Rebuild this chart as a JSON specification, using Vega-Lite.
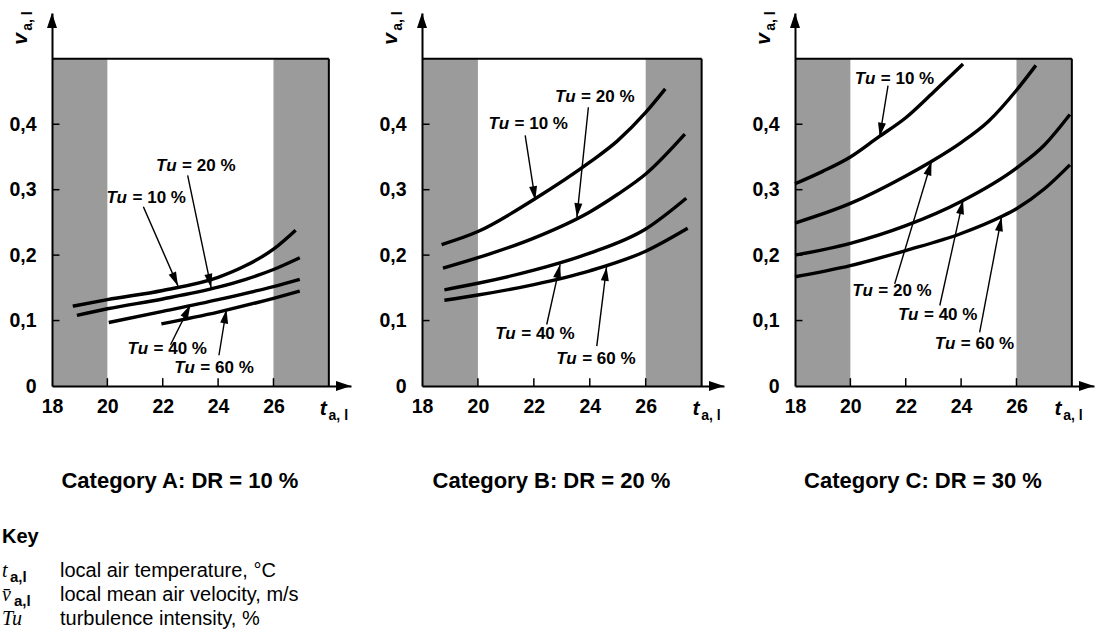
{
  "$schema": "https://vega.github.io/schema/vega-lite/v6.json",
  "background": "white",
  "padding": {"left": 2, "top": 11, "right": 2, "bottom": 2},
  "datasets": {
    "zones": [
      {"x": 18, "x2": 20, "y": 0, "y2": 0.5},
      {"x": 26, "x2": 28, "y": 0, "y2": 0.5}
    ],
    "frame": [
      {"x": 18, "y": 0.5, "x2": 28, "y2": 0.5},
      {"x": 28, "y": 0, "x2": 28, "y2": 0.5}
    ],
    "ticks": [
      {"x": 20, "y": 0, "x2": 20, "y2": 0.012},
      {"x": 22, "y": 0, "x2": 22, "y2": 0.012},
      {"x": 24, "y": 0, "x2": 24, "y2": 0.012},
      {"x": 26, "y": 0, "x2": 26, "y2": 0.012},
      {"x": 18, "y": 0.1, "x2": 18.27, "y2": 0.1},
      {"x": 18, "y": 0.2, "x2": 18.27, "y2": 0.2},
      {"x": 18, "y": 0.3, "x2": 18.27, "y2": 0.3},
      {"x": 18, "y": 0.4, "x2": 18.27, "y2": 0.4}
    ],
    "axend": [
      {"dir": "up", "x": 18, "y": 0.57},
      {"dir": "right", "x": 28.8, "y": 0}
    ],
    "axlab": [
      {"p": "A", "sym": "v", "x": 18, "y": 0.57},
      {"p": "A", "sym": "t", "x": 27.8, "y": 0},
      {"p": "B", "sym": "v", "x": 18, "y": 0.57},
      {"p": "B", "sym": "t", "x": 27.8, "y": 0},
      {"p": "C", "sym": "v", "x": 18, "y": 0.57},
      {"p": "C", "sym": "t", "x": 27.5, "y": 0}
    ],
    "curves": [
      {"p": "A", "tu": "10", "x": 18.75, "y": 0.122},
      {"p": "A", "tu": "10", "x": 20, "y": 0.132},
      {"p": "A", "tu": "10", "x": 22, "y": 0.146},
      {"p": "A", "tu": "10", "x": 24, "y": 0.166},
      {"p": "A", "tu": "10", "x": 25, "y": 0.184},
      {"p": "A", "tu": "10", "x": 26, "y": 0.209},
      {"p": "A", "tu": "10", "x": 26.8, "y": 0.238},
      {"p": "A", "tu": "20", "x": 18.9, "y": 0.108},
      {"p": "A", "tu": "20", "x": 20, "y": 0.118},
      {"p": "A", "tu": "20", "x": 22, "y": 0.133},
      {"p": "A", "tu": "20", "x": 24, "y": 0.151},
      {"p": "A", "tu": "20", "x": 25, "y": 0.163},
      {"p": "A", "tu": "20", "x": 26, "y": 0.178},
      {"p": "A", "tu": "20", "x": 26.95, "y": 0.196},
      {"p": "A", "tu": "40", "x": 20.05, "y": 0.097},
      {"p": "A", "tu": "40", "x": 22, "y": 0.114},
      {"p": "A", "tu": "40", "x": 24, "y": 0.132},
      {"p": "A", "tu": "40", "x": 26, "y": 0.152},
      {"p": "A", "tu": "40", "x": 26.95, "y": 0.163},
      {"p": "A", "tu": "60", "x": 21.95, "y": 0.095},
      {"p": "A", "tu": "60", "x": 24, "y": 0.113},
      {"p": "A", "tu": "60", "x": 26, "y": 0.134},
      {"p": "A", "tu": "60", "x": 26.95, "y": 0.145},
      {"p": "B", "tu": "10", "x": 18.7, "y": 0.216},
      {"p": "B", "tu": "10", "x": 20, "y": 0.236},
      {"p": "B", "tu": "10", "x": 22, "y": 0.285},
      {"p": "B", "tu": "10", "x": 24, "y": 0.342},
      {"p": "B", "tu": "10", "x": 25, "y": 0.375},
      {"p": "B", "tu": "10", "x": 26, "y": 0.418},
      {"p": "B", "tu": "10", "x": 26.7, "y": 0.454},
      {"p": "B", "tu": "20", "x": 18.75, "y": 0.18},
      {"p": "B", "tu": "20", "x": 20, "y": 0.196},
      {"p": "B", "tu": "20", "x": 22, "y": 0.226},
      {"p": "B", "tu": "20", "x": 24, "y": 0.266},
      {"p": "B", "tu": "20", "x": 25, "y": 0.293},
      {"p": "B", "tu": "20", "x": 26, "y": 0.324},
      {"p": "B", "tu": "20", "x": 27.4, "y": 0.385},
      {"p": "B", "tu": "40", "x": 18.8, "y": 0.147},
      {"p": "B", "tu": "40", "x": 20, "y": 0.157},
      {"p": "B", "tu": "40", "x": 22, "y": 0.177},
      {"p": "B", "tu": "40", "x": 24, "y": 0.203},
      {"p": "B", "tu": "40", "x": 26, "y": 0.24},
      {"p": "B", "tu": "40", "x": 27.45, "y": 0.287},
      {"p": "B", "tu": "60", "x": 18.8, "y": 0.131},
      {"p": "B", "tu": "60", "x": 20, "y": 0.139},
      {"p": "B", "tu": "60", "x": 22, "y": 0.155},
      {"p": "B", "tu": "60", "x": 24, "y": 0.176},
      {"p": "B", "tu": "60", "x": 26, "y": 0.206},
      {"p": "B", "tu": "60", "x": 27.5, "y": 0.241},
      {"p": "C", "tu": "10", "x": 18, "y": 0.309},
      {"p": "C", "tu": "10", "x": 19, "y": 0.328},
      {"p": "C", "tu": "10", "x": 20, "y": 0.35},
      {"p": "C", "tu": "10", "x": 21, "y": 0.38},
      {"p": "C", "tu": "10", "x": 22, "y": 0.41},
      {"p": "C", "tu": "10", "x": 23, "y": 0.449},
      {"p": "C", "tu": "10", "x": 24.07, "y": 0.492},
      {"p": "C", "tu": "20", "x": 18, "y": 0.249},
      {"p": "C", "tu": "20", "x": 20, "y": 0.279},
      {"p": "C", "tu": "20", "x": 22, "y": 0.321},
      {"p": "C", "tu": "20", "x": 23, "y": 0.345},
      {"p": "C", "tu": "20", "x": 24, "y": 0.372},
      {"p": "C", "tu": "20", "x": 25, "y": 0.405},
      {"p": "C", "tu": "20", "x": 26, "y": 0.452},
      {"p": "C", "tu": "20", "x": 26.7, "y": 0.49},
      {"p": "C", "tu": "40", "x": 18, "y": 0.2},
      {"p": "C", "tu": "40", "x": 20, "y": 0.218},
      {"p": "C", "tu": "40", "x": 22, "y": 0.245},
      {"p": "C", "tu": "40", "x": 24, "y": 0.282},
      {"p": "C", "tu": "40", "x": 26, "y": 0.333},
      {"p": "C", "tu": "40", "x": 27, "y": 0.368},
      {"p": "C", "tu": "40", "x": 27.93, "y": 0.415},
      {"p": "C", "tu": "60", "x": 18, "y": 0.167},
      {"p": "C", "tu": "60", "x": 20, "y": 0.184},
      {"p": "C", "tu": "60", "x": 22, "y": 0.207},
      {"p": "C", "tu": "60", "x": 24, "y": 0.233},
      {"p": "C", "tu": "60", "x": 25.46, "y": 0.259},
      {"p": "C", "tu": "60", "x": 26, "y": 0.271},
      {"p": "C", "tu": "60", "x": 27, "y": 0.301},
      {"p": "C", "tu": "60", "x": 27.93, "y": 0.338}
    ],
    "labels": [
      {"p": "A", "tu": "20", "eq": "= 20 %", "x": 21.76, "y": 0.336},
      {"p": "A", "tu": "10", "eq": "= 10 %", "x": 19.97, "y": 0.287},
      {"p": "A", "tu": "40", "eq": "= 40 %", "x": 20.73, "y": 0.056},
      {"p": "A", "tu": "60", "eq": "= 60 %", "x": 22.42, "y": 0.028},
      {"p": "B", "tu": "20", "eq": "= 20 %", "x": 22.76, "y": 0.442},
      {"p": "B", "tu": "10", "eq": "= 10 %", "x": 20.38, "y": 0.4},
      {"p": "B", "tu": "40", "eq": "= 40 %", "x": 20.62, "y": 0.079},
      {"p": "B", "tu": "60", "eq": "= 60 %", "x": 22.8, "y": 0.041},
      {"p": "C", "tu": "10", "eq": "= 10 %", "x": 20.16, "y": 0.469},
      {"p": "C", "tu": "20", "eq": "= 20 %", "x": 20.07, "y": 0.145},
      {"p": "C", "tu": "40", "eq": "= 40 %", "x": 21.72, "y": 0.108},
      {"p": "C", "tu": "60", "eq": "= 60 %", "x": 23.05, "y": 0.064}
    ],
    "arrows": [
      {"p": "A", "tu": "10", "x": 22.55, "y": 0.153, "x2": 21.3, "y2": 0.274},
      {"p": "A", "tu": "20", "x": 23.75, "y": 0.15, "x2": 22.9, "y2": 0.322},
      {"p": "A", "tu": "40", "x": 23.0, "y": 0.124, "x2": 22.28, "y2": 0.063},
      {"p": "A", "tu": "60", "x": 24.3, "y": 0.117, "x2": 24.03, "y2": 0.047},
      {"p": "B", "tu": "10", "x": 22.05, "y": 0.284, "x2": 21.69, "y2": 0.383},
      {"p": "B", "tu": "20", "x": 23.54, "y": 0.258, "x2": 23.95, "y2": 0.426},
      {"p": "B", "tu": "40", "x": 22.94, "y": 0.186, "x2": 22.46, "y2": 0.094},
      {"p": "B", "tu": "60", "x": 24.6, "y": 0.182, "x2": 24.25, "y2": 0.061},
      {"p": "C", "tu": "10", "x": 21.06, "y": 0.381, "x2": 21.36, "y2": 0.459},
      {"p": "C", "tu": "20", "x": 22.93, "y": 0.343, "x2": 21.6, "y2": 0.156},
      {"p": "C", "tu": "40", "x": 24.07, "y": 0.284, "x2": 23.23, "y2": 0.123},
      {"p": "C", "tu": "60", "x": 25.46, "y": 0.258, "x2": 24.67, "y2": 0.082}
    ],
    "key": [
      {"kind": "head", "col": 0, "row": 0, "txt": "Key"},
      {"kind": "sym", "col": 0, "row": 1.4, "txt": "t"},
      {"kind": "sym", "col": 0, "row": 2.4, "txt": "v\u0304"},
      {"kind": "sym", "col": 0, "row": 3.4, "txt": "Tu"},
      {"kind": "desc", "col": 1, "row": 1.4, "txt": "local air temperature, °C"},
      {"kind": "desc", "col": 1, "row": 2.4, "txt": "local mean air velocity, m/s"},
      {"kind": "desc", "col": 1, "row": 3.4, "txt": "turbulence intensity, %"}
    ]
  },
  "vconcat": [
    {
      "hconcat": [
        {
          "width": 299, "height": 373,
          "title": {"text": "Category A: DR = 10 %", "orient": "bottom", "frame": "bounds", "anchor": "middle", "offset": 48, "baseline": "top", "font": "Liberation Sans", "fontSize": 22, "fontWeight": "bold", "color": "black"},
          "encoding": {
            "x": {"field": "x", "type": "quantitative", "title": null, "scale": {"domain": [18, 28.8], "nice": false, "zero": false},
                  "axis": {"values": [18, 20, 22, 24, 26], "grid": false, "zindex": 2, "domainColor": "black", "domainWidth": 2, "ticks": false, "labelFont": "Liberation Sans", "labelFontSize": 19.5, "labelFontWeight": "bold", "labelColor": "black", "labelPadding": 11, "labelFlush": false, "labelOverlap": false}},
            "y": {"field": "y", "type": "quantitative", "title": null, "scale": {"domain": [0, 0.57], "nice": false, "zero": false},
                  "axis": {"values": [0, 0.1, 0.2, 0.3, 0.4], "labelExpr": "datum.value == 0 ? '0' : replace(format(datum.value, '.1f'), '.', ',')", "grid": false, "zindex": 2, "domainColor": "black", "domainWidth": 2, "ticks": false, "labelFont": "Liberation Sans", "labelFontSize": 19.5, "labelFontWeight": "bold", "labelColor": "black", "labelPadding": 16, "labelFlush": false, "labelOverlap": false}}
          },
          "layer": [
            {"data": {"name": "zones"}, "mark": {"type": "rect", "fill": "#9b9b9b"}, "encoding": {"x2": {"field": "x2"}, "y2": {"field": "y2"}}},
            {"data": {"name": "frame"}, "mark": {"type": "rule", "color": "black", "strokeWidth": 2}, "encoding": {"x2": {"field": "x2"}, "y2": {"field": "y2"}}},
            {"data": {"name": "ticks"}, "mark": {"type": "rule", "color": "black", "strokeWidth": 1.5}, "encoding": {"x2": {"field": "x2"}, "y2": {"field": "y2"}}},
            {"data": {"name": "curves"}, "transform": [{"filter": "datum.p == 'A'"}], "mark": {"type": "line", "color": "black", "strokeWidth": 3.4, "interpolate": "monotone"}, "encoding": {"detail": {"field": "tu"}}},
            {"data": {"name": "arrows"}, "transform": [{"filter": "datum.p == 'A'"}], "mark": {"type": "rule", "color": "black", "strokeWidth": 1.4}, "encoding": {"x2": {"field": "x2"}, "y2": {"field": "y2"}}},
            {"data": {"name": "arrows"}, "transform": [{"filter": "datum.p == 'A'"}, {"calculate": "atan2((datum.x - datum.x2) * 27.69, (datum.y - datum.y2) * 654.4) * 180 / PI", "as": "ang"}], "mark": {"type": "point", "shape": "M0,0L-0.8,2.8L0.8,2.8Z", "size": 100, "filled": true, "color": "black", "opacity": 1}, "encoding": {"angle": {"field": "ang", "type": "quantitative", "scale": null}}},
            {"data": {"name": "axend"}, "transform": [{"filter": "datum.dir == 'up'"}], "mark": {"type": "point", "shape": "M0,0L-1,3L1,3Z", "size": 100, "filled": true, "color": "black", "opacity": 1}},
            {"data": {"name": "axend"}, "transform": [{"filter": "datum.dir == 'right'"}], "mark": {"type": "point", "shape": "M0,0L-3,-1L-3,1Z", "size": 100, "filled": true, "color": "black", "opacity": 1}},
            {"data": {"name": "labels"}, "transform": [{"filter": "datum.p == 'A'"}], "mark": {"type": "text", "text": "Tu", "font": "Liberation Sans", "fontSize": 17, "fontWeight": "bold", "fontStyle": "italic", "align": "left", "baseline": "middle", "color": "black"}},
            {"data": {"name": "labels"}, "transform": [{"filter": "datum.p == 'A'"}], "mark": {"type": "text", "font": "Liberation Sans", "fontSize": 17, "fontWeight": "bold", "align": "left", "baseline": "middle", "dx": 26, "color": "black"}, "encoding": {"text": {"field": "eq"}}},
            {"data": {"name": "axlab"}, "transform": [{"filter": "datum.p == 'A' && datum.sym == 'v'"}], "mark": {"type": "text", "text": "v", "font": "Liberation Sans", "fontSize": 21, "fontWeight": "bold", "fontStyle": "italic", "angle": 270, "align": "center", "baseline": "middle", "dx": -26, "dy": -31, "color": "black"}},
            {"data": {"name": "axlab"}, "transform": [{"filter": "datum.p == 'A' && datum.sym == 'v'"}], "mark": {"type": "text", "text": "a, l", "font": "Liberation Sans", "fontSize": 14, "fontWeight": "bold", "angle": 270, "align": "center", "baseline": "middle", "dx": -8, "dy": -24, "color": "black"}},
            {"data": {"name": "axlab"}, "transform": [{"filter": "datum.p == 'A' && datum.sym == 't'"}], "mark": {"type": "text", "text": "t", "font": "Liberation Sans", "fontSize": 21, "fontWeight": "bold", "fontStyle": "italic", "align": "center", "baseline": "middle", "dx": 0, "dy": 23, "color": "black"}},
            {"data": {"name": "axlab"}, "transform": [{"filter": "datum.p == 'A' && datum.sym == 't'"}], "mark": {"type": "text", "text": "a, l", "font": "Liberation Sans", "fontSize": 14, "fontWeight": "bold", "align": "center", "baseline": "middle", "dx": 15, "dy": 30, "color": "black"}}
          ]
        },
        {
          "width": 302, "height": 373,
          "title": {"text": "Category B: DR = 20 %", "orient": "bottom", "frame": "bounds", "anchor": "middle", "offset": 48, "baseline": "top", "font": "Liberation Sans", "fontSize": 22, "fontWeight": "bold", "color": "black"},
          "encoding": {
            "x": {"field": "x", "type": "quantitative", "title": null, "scale": {"domain": [18, 28.8], "nice": false, "zero": false},
                  "axis": {"values": [18, 20, 22, 24, 26], "grid": false, "zindex": 2, "domainColor": "black", "domainWidth": 2, "ticks": false, "labelFont": "Liberation Sans", "labelFontSize": 19.5, "labelFontWeight": "bold", "labelColor": "black", "labelPadding": 11, "labelFlush": false, "labelOverlap": false}},
            "y": {"field": "y", "type": "quantitative", "title": null, "scale": {"domain": [0, 0.57], "nice": false, "zero": false},
                  "axis": {"values": [0, 0.1, 0.2, 0.3, 0.4], "labelExpr": "datum.value == 0 ? '0' : replace(format(datum.value, '.1f'), '.', ',')", "grid": false, "zindex": 2, "domainColor": "black", "domainWidth": 2, "ticks": false, "labelFont": "Liberation Sans", "labelFontSize": 19.5, "labelFontWeight": "bold", "labelColor": "black", "labelPadding": 16, "labelFlush": false, "labelOverlap": false}}
          },
          "layer": [
            {"data": {"name": "zones"}, "mark": {"type": "rect", "fill": "#9b9b9b"}, "encoding": {"x2": {"field": "x2"}, "y2": {"field": "y2"}}},
            {"data": {"name": "frame"}, "mark": {"type": "rule", "color": "black", "strokeWidth": 2}, "encoding": {"x2": {"field": "x2"}, "y2": {"field": "y2"}}},
            {"data": {"name": "ticks"}, "mark": {"type": "rule", "color": "black", "strokeWidth": 1.5}, "encoding": {"x2": {"field": "x2"}, "y2": {"field": "y2"}}},
            {"data": {"name": "curves"}, "transform": [{"filter": "datum.p == 'B'"}], "mark": {"type": "line", "color": "black", "strokeWidth": 3.4, "interpolate": "monotone"}, "encoding": {"detail": {"field": "tu"}}},
            {"data": {"name": "arrows"}, "transform": [{"filter": "datum.p == 'B'"}], "mark": {"type": "rule", "color": "black", "strokeWidth": 1.4}, "encoding": {"x2": {"field": "x2"}, "y2": {"field": "y2"}}},
            {"data": {"name": "arrows"}, "transform": [{"filter": "datum.p == 'B'"}, {"calculate": "atan2((datum.x - datum.x2) * 27.96, (datum.y - datum.y2) * 654.4) * 180 / PI", "as": "ang"}], "mark": {"type": "point", "shape": "M0,0L-0.8,2.8L0.8,2.8Z", "size": 100, "filled": true, "color": "black", "opacity": 1}, "encoding": {"angle": {"field": "ang", "type": "quantitative", "scale": null}}},
            {"data": {"name": "axend"}, "transform": [{"filter": "datum.dir == 'up'"}], "mark": {"type": "point", "shape": "M0,0L-1,3L1,3Z", "size": 100, "filled": true, "color": "black", "opacity": 1}},
            {"data": {"name": "axend"}, "transform": [{"filter": "datum.dir == 'right'"}], "mark": {"type": "point", "shape": "M0,0L-3,-1L-3,1Z", "size": 100, "filled": true, "color": "black", "opacity": 1}},
            {"data": {"name": "labels"}, "transform": [{"filter": "datum.p == 'B'"}], "mark": {"type": "text", "text": "Tu", "font": "Liberation Sans", "fontSize": 17, "fontWeight": "bold", "fontStyle": "italic", "align": "left", "baseline": "middle", "color": "black"}},
            {"data": {"name": "labels"}, "transform": [{"filter": "datum.p == 'B'"}], "mark": {"type": "text", "font": "Liberation Sans", "fontSize": 17, "fontWeight": "bold", "align": "left", "baseline": "middle", "dx": 26, "color": "black"}, "encoding": {"text": {"field": "eq"}}},
            {"data": {"name": "axlab"}, "transform": [{"filter": "datum.p == 'B' && datum.sym == 'v'"}], "mark": {"type": "text", "text": "v", "font": "Liberation Sans", "fontSize": 21, "fontWeight": "bold", "fontStyle": "italic", "angle": 270, "align": "center", "baseline": "middle", "dx": -26, "dy": -31, "color": "black"}},
            {"data": {"name": "axlab"}, "transform": [{"filter": "datum.p == 'B' && datum.sym == 'v'"}], "mark": {"type": "text", "text": "a, l", "font": "Liberation Sans", "fontSize": 14, "fontWeight": "bold", "angle": 270, "align": "center", "baseline": "middle", "dx": -8, "dy": -24, "color": "black"}},
            {"data": {"name": "axlab"}, "transform": [{"filter": "datum.p == 'B' && datum.sym == 't'"}], "mark": {"type": "text", "text": "t", "font": "Liberation Sans", "fontSize": 21, "fontWeight": "bold", "fontStyle": "italic", "align": "center", "baseline": "middle", "dx": 0, "dy": 23, "color": "black"}},
            {"data": {"name": "axlab"}, "transform": [{"filter": "datum.p == 'B' && datum.sym == 't'"}], "mark": {"type": "text", "text": "a, l", "font": "Liberation Sans", "fontSize": 14, "fontWeight": "bold", "align": "center", "baseline": "middle", "dx": 15, "dy": 30, "color": "black"}}
          ]
        },
        {
          "width": 299, "height": 373,
          "title": {"text": "Category C: DR = 30 %", "orient": "bottom", "frame": "bounds", "anchor": "middle", "offset": 48, "baseline": "top", "font": "Liberation Sans", "fontSize": 22, "fontWeight": "bold", "color": "black"},
          "encoding": {
            "x": {"field": "x", "type": "quantitative", "title": null, "scale": {"domain": [18, 28.8], "nice": false, "zero": false},
                  "axis": {"values": [18, 20, 22, 24, 26], "grid": false, "zindex": 2, "domainColor": "black", "domainWidth": 2, "ticks": false, "labelFont": "Liberation Sans", "labelFontSize": 19.5, "labelFontWeight": "bold", "labelColor": "black", "labelPadding": 11, "labelFlush": false, "labelOverlap": false}},
            "y": {"field": "y", "type": "quantitative", "title": null, "scale": {"domain": [0, 0.57], "nice": false, "zero": false},
                  "axis": {"values": [0, 0.1, 0.2, 0.3, 0.4], "labelExpr": "datum.value == 0 ? '0' : replace(format(datum.value, '.1f'), '.', ',')", "grid": false, "zindex": 2, "domainColor": "black", "domainWidth": 2, "ticks": false, "labelFont": "Liberation Sans", "labelFontSize": 19.5, "labelFontWeight": "bold", "labelColor": "black", "labelPadding": 16, "labelFlush": false, "labelOverlap": false}}
          },
          "layer": [
            {"data": {"name": "zones"}, "mark": {"type": "rect", "fill": "#9b9b9b"}, "encoding": {"x2": {"field": "x2"}, "y2": {"field": "y2"}}},
            {"data": {"name": "frame"}, "mark": {"type": "rule", "color": "black", "strokeWidth": 2}, "encoding": {"x2": {"field": "x2"}, "y2": {"field": "y2"}}},
            {"data": {"name": "ticks"}, "mark": {"type": "rule", "color": "black", "strokeWidth": 1.5}, "encoding": {"x2": {"field": "x2"}, "y2": {"field": "y2"}}},
            {"data": {"name": "curves"}, "transform": [{"filter": "datum.p == 'C'"}], "mark": {"type": "line", "color": "black", "strokeWidth": 3.4, "interpolate": "monotone"}, "encoding": {"detail": {"field": "tu"}}},
            {"data": {"name": "arrows"}, "transform": [{"filter": "datum.p == 'C'"}], "mark": {"type": "rule", "color": "black", "strokeWidth": 1.4}, "encoding": {"x2": {"field": "x2"}, "y2": {"field": "y2"}}},
            {"data": {"name": "arrows"}, "transform": [{"filter": "datum.p == 'C'"}, {"calculate": "atan2((datum.x - datum.x2) * 27.69, (datum.y - datum.y2) * 654.4) * 180 / PI", "as": "ang"}], "mark": {"type": "point", "shape": "M0,0L-0.8,2.8L0.8,2.8Z", "size": 100, "filled": true, "color": "black", "opacity": 1}, "encoding": {"angle": {"field": "ang", "type": "quantitative", "scale": null}}},
            {"data": {"name": "axend"}, "transform": [{"filter": "datum.dir == 'up'"}], "mark": {"type": "point", "shape": "M0,0L-1,3L1,3Z", "size": 100, "filled": true, "color": "black", "opacity": 1}},
            {"data": {"name": "axend"}, "transform": [{"filter": "datum.dir == 'right'"}], "mark": {"type": "point", "shape": "M0,0L-3,-1L-3,1Z", "size": 100, "filled": true, "color": "black", "opacity": 1}},
            {"data": {"name": "labels"}, "transform": [{"filter": "datum.p == 'C'"}], "mark": {"type": "text", "text": "Tu", "font": "Liberation Sans", "fontSize": 17, "fontWeight": "bold", "fontStyle": "italic", "align": "left", "baseline": "middle", "color": "black"}},
            {"data": {"name": "labels"}, "transform": [{"filter": "datum.p == 'C'"}], "mark": {"type": "text", "font": "Liberation Sans", "fontSize": 17, "fontWeight": "bold", "align": "left", "baseline": "middle", "dx": 26, "color": "black"}, "encoding": {"text": {"field": "eq"}}},
            {"data": {"name": "axlab"}, "transform": [{"filter": "datum.p == 'C' && datum.sym == 'v'"}], "mark": {"type": "text", "text": "v", "font": "Liberation Sans", "fontSize": 21, "fontWeight": "bold", "fontStyle": "italic", "angle": 270, "align": "center", "baseline": "middle", "dx": -26, "dy": -31, "color": "black"}},
            {"data": {"name": "axlab"}, "transform": [{"filter": "datum.p == 'C' && datum.sym == 'v'"}], "mark": {"type": "text", "text": "a, l", "font": "Liberation Sans", "fontSize": 14, "fontWeight": "bold", "angle": 270, "align": "center", "baseline": "middle", "dx": -8, "dy": -24, "color": "black"}},
            {"data": {"name": "axlab"}, "transform": [{"filter": "datum.p == 'C' && datum.sym == 't'"}], "mark": {"type": "text", "text": "t", "font": "Liberation Sans", "fontSize": 21, "fontWeight": "bold", "fontStyle": "italic", "align": "center", "baseline": "middle", "dx": 0, "dy": 23, "color": "black"}},
            {"data": {"name": "axlab"}, "transform": [{"filter": "datum.p == 'C' && datum.sym == 't'"}], "mark": {"type": "text", "text": "a, l", "font": "Liberation Sans", "fontSize": 14, "fontWeight": "bold", "align": "center", "baseline": "middle", "dx": 15, "dy": 30, "color": "black"}}
          ]
        }
      ],
      "spacing": 27
    },
    {
      "width": 58, "height": 82,
      "data": {"name": "key"},
      "encoding": {
        "x": {"field": "col", "type": "quantitative", "scale": {"domain": [0.862, 1.862]}, "axis": null},
        "y": {"field": "row", "type": "quantitative", "scale": {"domain": [0, 3.4], "reverse": true}, "axis": null}
      },
      "layer": [
        {"transform": [{"filter": "datum.kind == 'head'"}], "mark": {"type": "text", "font": "Liberation Sans", "fontSize": 20, "fontWeight": "bold", "align": "left", "baseline": "alphabetic", "color": "black"}, "encoding": {"text": {"field": "txt"}}},
        {"transform": [{"filter": "datum.kind == 'desc'"}], "mark": {"type": "text", "font": "Liberation Sans", "fontSize": 20, "align": "left", "baseline": "alphabetic", "color": "black"}, "encoding": {"text": {"field": "txt"}}},
        {"transform": [{"filter": "datum.kind == 'sym'"}], "mark": {"type": "text", "font": "Liberation Serif", "fontSize": 20, "fontStyle": "italic", "align": "left", "baseline": "alphabetic", "color": "black"}, "encoding": {"text": {"field": "txt"}}},
        {"transform": [{"filter": "datum.kind == 'sym' && datum.txt == 't'"}], "mark": {"type": "text", "text": "a,l", "font": "Liberation Sans", "fontSize": 15, "fontWeight": "bold", "align": "left", "baseline": "alphabetic", "dx": 8, "dy": 5, "color": "black"}},
        {"transform": [{"filter": "datum.kind == 'sym' && datum.txt != 't' && datum.txt != 'Tu'"}], "mark": {"type": "text", "text": "a,l", "font": "Liberation Sans", "fontSize": 15, "fontWeight": "bold", "align": "left", "baseline": "alphabetic", "dx": 12, "dy": 5, "color": "black"}}
      ]
    }
  ],
  "spacing": 35,
  "config": {"view": {"stroke": null}}
}
